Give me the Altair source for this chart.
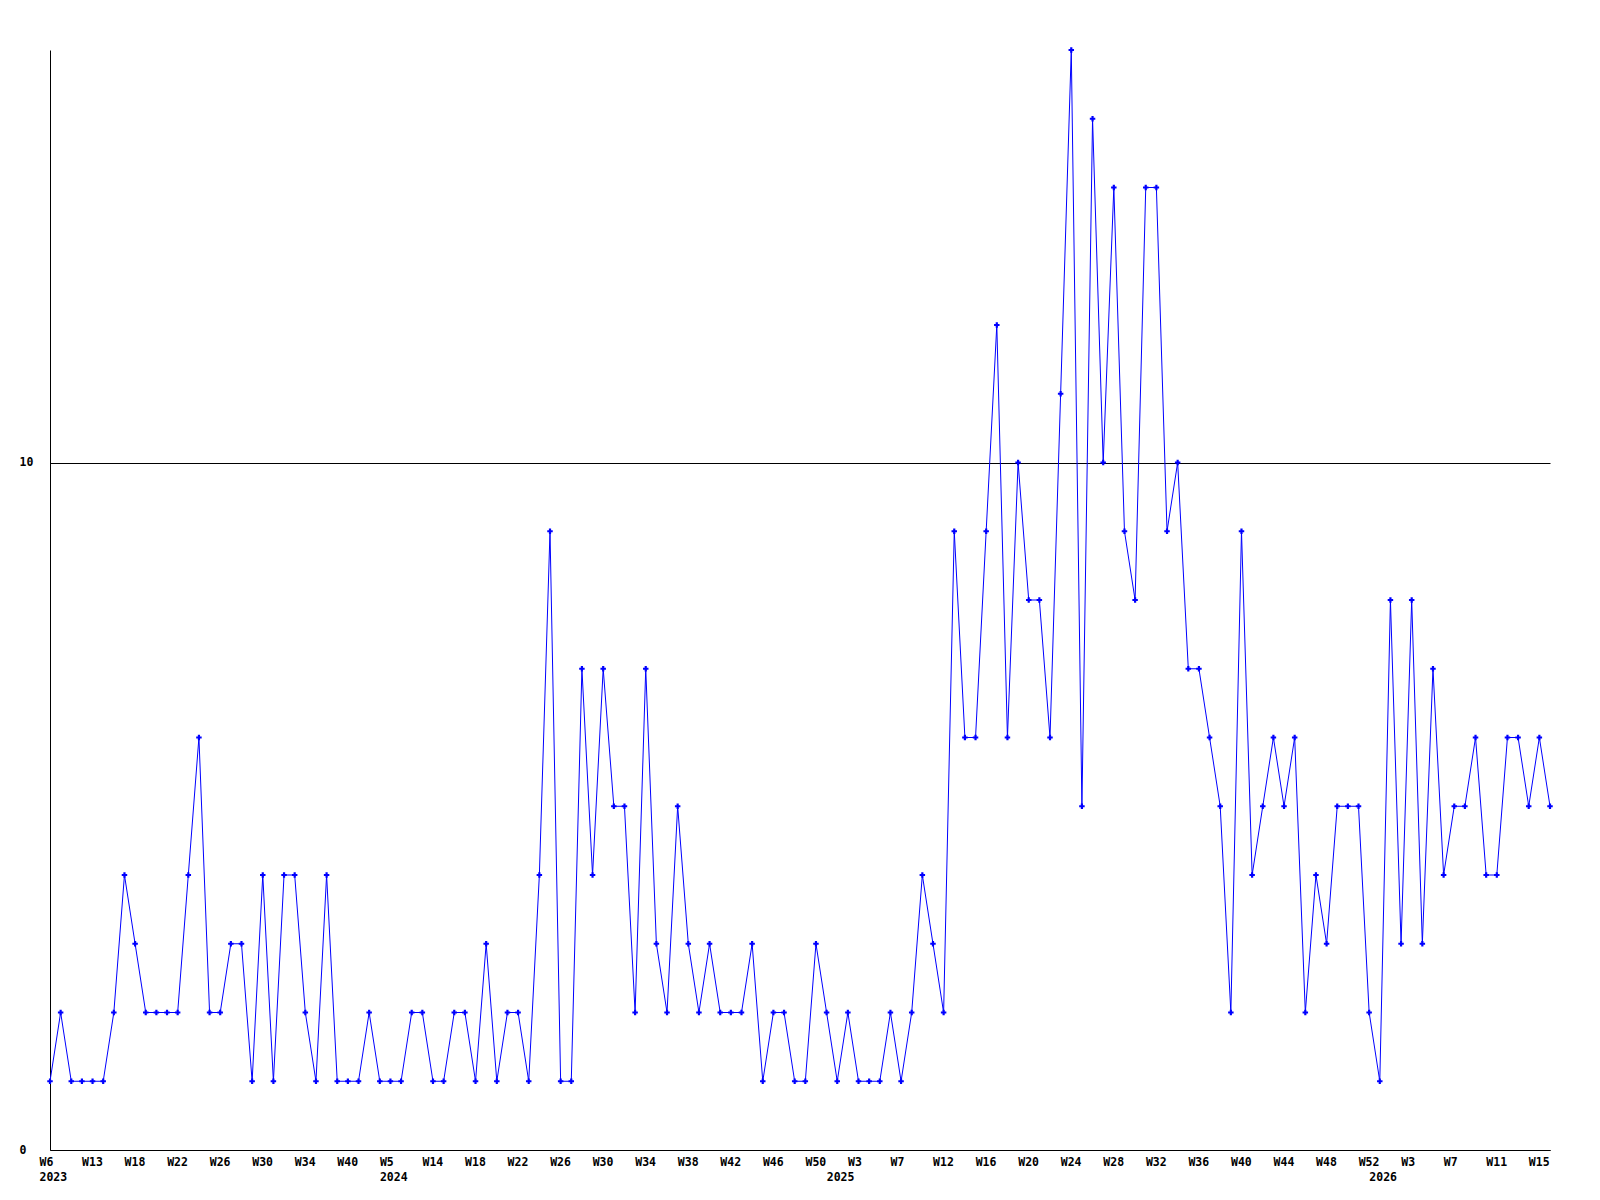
import json
import altair as alt
import pandas as pd

# ---- data ----
weeks_2023 = [6, 7, 9, 11, 13, 14, 15, 17, 18, 19, 20, 21, 22, 23, 24, 25, 26, 27, 28, 29,
              30, 31, 32, 33, 34, 35, 37, 38, 40, 42, 45, 49]
weeks_2024 = [5, 7, 9, 12] + list(range(14, 51)) + [52]
weeks_2025 = [1, 2, 3, 4, 5, 6, 7, 8, 9, 11] + list(range(12, 53))
weeks_2026 = list(range(0, 17))

years = [2023] * len(weeks_2023) + [2024] * len(weeks_2024) + [2025] * len(weeks_2025) + [2026] * len(weeks_2026)
weeks = weeks_2023 + weeks_2024 + weeks_2025 + weeks_2026

values = [1, 2, 1, 1, 1, 1, 2, 4, 3, 2,
          2, 2, 2, 4, 6, 2, 2, 3, 3, 1,
          4, 1, 4, 4, 2, 1, 4, 1, 1, 1,
          2, 1, 1, 1, 2, 2, 1, 1, 2, 2,
          1, 3, 1, 2, 2, 1, 4, 9, 1, 1,
          7, 4, 7, 5, 5, 2, 7, 3, 2, 5,
          3, 2, 3, 2, 2, 2, 3, 1, 2, 2,
          1, 1, 3, 2, 1, 2, 1, 1, 1, 2,
          1, 2, 4, 3, 2, 9, 6, 6, 9, 12,
          6, 10, 8, 8, 6, 11, 16, 5, 15, 10,
          14, 9, 8, 14, 14, 9, 10, 7, 7, 6,
          5, 2, 9, 4, 5, 6, 5, 6, 2, 4,
          3, 5, 5, 5, 2, 1, 8, 3, 8, 3,
          7, 4, 5, 5, 6, 4, 4, 6, 6, 5,
          6, 5]

y_ticks = [0, 10]

n = len(values)
df = pd.DataFrame({"i": list(range(n)), "year": years, "week": weeks, "value": values})

# tick labels: every 4th point shows its week, first point of each year shows year below
tick_vals = []
labels = []
for i in range(n):
    first_of_year = i == 0 or years[i] != years[i - 1]
    line1 = f"W{weeks[i]}" if i % 4 == 0 else ""
    line2 = str(years[i]) if first_of_year else ""
    if line1 or line2:
        tick_vals.append(i)
    labels.append([line1, line2] if line2 else [line1])
label_expr = json.dumps(labels) + "[datum.value]"

FONT = "DejaVu Sans Mono"

x = alt.X("i:Q",
          scale=alt.Scale(domain=[0, n - 1], nice=False, zero=False),
          axis=alt.Axis(values=tick_vals, labelExpr=label_expr, title=None, grid=False,
                        ticks=False, tickSize=0, labelPadding=6, labelAlign="left",
                        labelOffset=-11, labelBaseline="top", labelLineHeight=15,
                        labelFont=FONT, labelFontSize=11.5, labelFontWeight="bold",
                        labelColor="black", domainColor="black", labelOverlap=False,
                        labelFlush=False))
y = alt.Y("value:Q",
          scale=alt.Scale(domain=[0, 16], nice=False),
          axis=alt.Axis(values=y_ticks, title=None, grid=True, gridColor="black",
                        gridOpacity=1, gridWidth=1, ticks=False, tickSize=0,
                        labelPadding=31, labelAlign="left", labelBaseline="middle",
                        labelFont=FONT, labelFontSize=11.5, labelFontWeight="bold",
                        labelColor="black", domainColor="black"))

base = alt.Chart(df).encode(x=x, y=y)
line = base.mark_line(color="#0000ff", strokeWidth=1)
pts = base.mark_point(shape="cross", filled=True, color="#0000ff", size=30, opacity=1)

chart = (line + pts).properties(
    width=1500, height=1100,
    autosize=alt.AutoSizeParams(type="none"),
    padding={"left": 42, "top": 42, "right": 30, "bottom": 36},
    background="white",
).configure_view(stroke=None)

chart.save("out.html", embed_options={"renderer": "svg", "actions": False})
